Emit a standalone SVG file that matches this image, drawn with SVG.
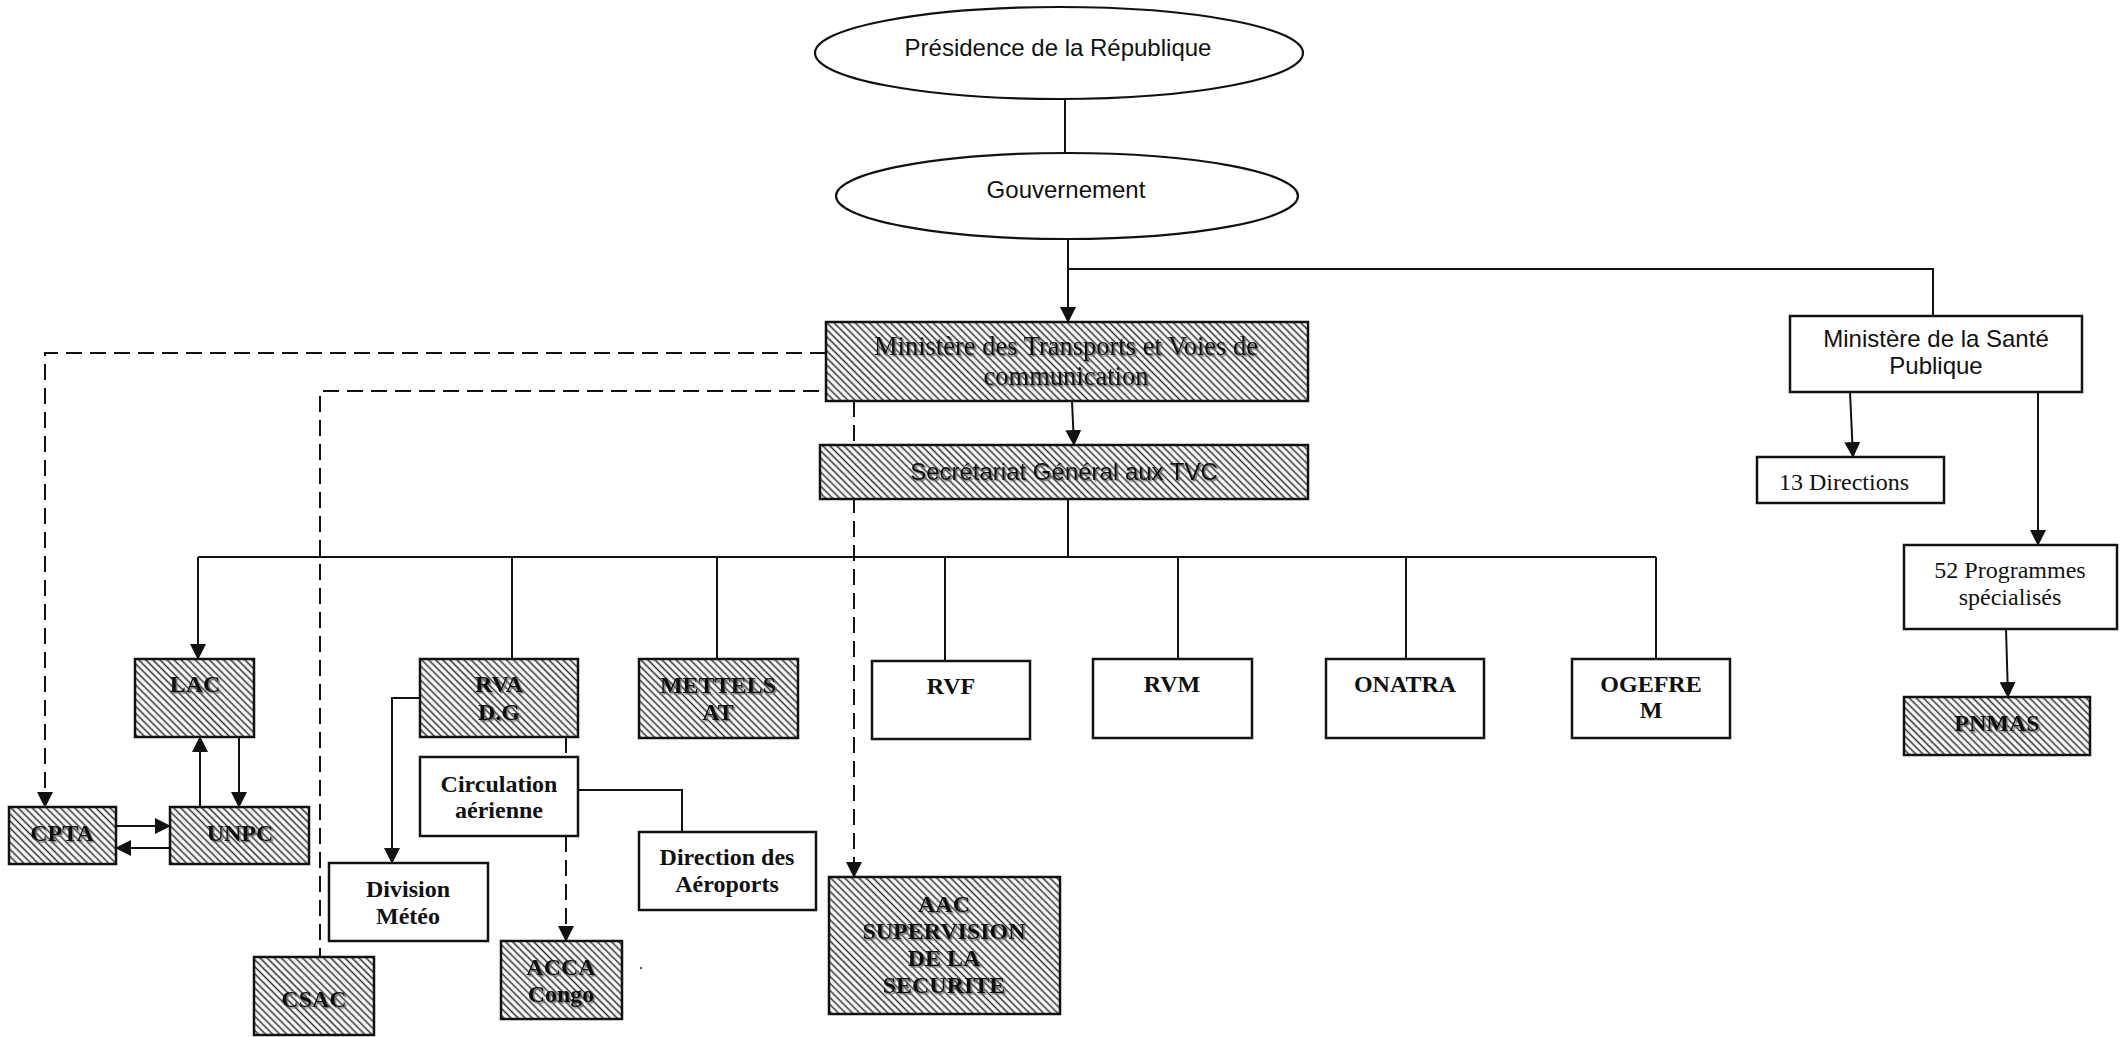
<svg xmlns="http://www.w3.org/2000/svg" width="2120" height="1037" viewBox="0 0 2120 1037">
<style>
.bg{fill:#fff}
.box{fill:#fff;stroke:#111;stroke-width:2.5}
.hb{fill:url(#hatch);stroke:#111;stroke-width:2.5}
.ell{fill:#fff;stroke:#111;stroke-width:2.2}
.ln{fill:none;stroke:#111;stroke-width:2}
.ds{fill:none;stroke:#111;stroke-width:2;stroke-dasharray:16 8}
.arr{marker-end:url(#ah)}
.sans{font-family:"Liberation Sans",Arial,sans-serif;font-size:24px;fill:#111;text-anchor:middle}
.ser{font-family:"Liberation Serif","Times New Roman",serif;font-size:24px;fill:#111;text-anchor:middle}
.bold{font-weight:bold}
.sh{filter:url(#shadow)}
</style>
<defs>
<pattern id="hatch" patternUnits="userSpaceOnUse" width="5" height="5" patternTransform="rotate(-45)">
<rect width="5" height="5" fill="#fff"/>
<line x1="1.5" y1="0" x2="1.5" y2="5" stroke="#333" stroke-width="1.6"/>
</pattern>
<marker id="ah" markerUnits="userSpaceOnUse" markerWidth="16" markerHeight="16" viewBox="0 0 16 16" refX="15" refY="8" orient="auto">
<path d="M0,0 L16,8 L0,16 Z" fill="#111"/>
</marker>
<filter id="shadow" x="-10%" y="-20%" width="130%" height="150%">
<feDropShadow dx="1.5" dy="1.5" stdDeviation="0.3" flood-color="#666" flood-opacity="0.9"/>
</filter>
</defs>
<rect class="bg" x="0" y="0" width="2120" height="1037"/>

<g id="connectors">
<path class="ln" d="M1065,99 V153"/>
<path class="ln arr" d="M1068,239 V322"/>
<path class="ln" d="M1068,269 H1933 V316"/>
<path class="ln arr" d="M1072,401 L1074,445"/>
<path class="ln" d="M1068,499 V557"/>
<path class="ln" d="M198,557 H1656"/>
<path class="ln arr" d="M198,557 V659"/>
<path class="ln" d="M512,557 V659"/>
<path class="ln" d="M717,557 V659"/>
<path class="ln" d="M945,557 V661"/>
<path class="ln" d="M1178,557 V659"/>
<path class="ln" d="M1406,557 V659"/>
<path class="ln" d="M1656,557 V659"/>
<path class="ln arr" d="M200,807 V737"/>
<path class="ln arr" d="M239,737 V807"/>
<path class="ln arr" d="M116,826 H170"/>
<path class="ln arr" d="M170,848 H116"/>
<path class="ds arr" d="M826,353 H45 V807"/>
<path class="ds" d="M819,391 H320 V957"/>
<path class="ds arr" d="M854,401 V877"/>
<path class="ln arr" d="M420,698 H392 V863"/>
<path class="ds" d="M566,737 V757"/>
<path class="ds arr" d="M566,836 V941"/>
<path class="ln" d="M578,790 H682 V832"/>
<path class="ln arr" d="M1850,392 L1853,457"/>
<path class="ln arr" d="M2038,392 V545"/>
<path class="ln arr" d="M2006,629 L2008,697"/>
</g>

<g id="presidence">
<ellipse class="ell" cx="1059" cy="53" rx="244" ry="46"/>
<text class="sans" x="1058" y="56">Présidence de la République</text>
</g>
<g id="gouvernement">
<ellipse class="ell" cx="1067" cy="196" rx="231" ry="43"/>
<text class="sans" x="1066" y="198">Gouvernement</text>
</g>
<g id="ministere-transports">
<rect class="hb" x="826" y="322" width="482" height="79"/>
<text class="ser sh" x="1066" y="355" style="font-size:26.5px">Ministère des Transports et Voies de</text>
<text class="ser sh" x="1066" y="385" style="font-size:26.5px">communication</text>
</g>
<g id="secretariat">
<rect class="hb" x="820" y="445" width="488" height="54"/>
<text class="sans sh" x="1064" y="480">Secrétariat Général aux TVC</text>
</g>
<g id="lac">
<rect class="hb" x="135" y="659" width="119" height="78"/>
<text class="ser bold sh" x="195" y="692">LAC</text>
</g>
<g id="rva">
<rect class="hb" x="420" y="659" width="158" height="78"/>
<text class="ser bold sh" x="499" y="692">RVA</text>
<text class="ser bold sh" x="499" y="720">D.G</text>
</g>
<g id="mettelsat">
<rect class="hb" x="639" y="659" width="159" height="79"/>
<text class="ser bold sh" x="718" y="693">METTELS</text>
<text class="ser bold sh" x="718" y="720">AT</text>
</g>
<g id="rvf">
<rect class="box" x="872" y="661" width="158" height="78"/>
<text class="ser bold" x="951" y="694">RVF</text>
</g>
<g id="rvm">
<rect class="box" x="1093" y="659" width="159" height="79"/>
<text class="ser bold" x="1172" y="692">RVM</text>
</g>
<g id="onatra">
<rect class="box" x="1326" y="659" width="158" height="79"/>
<text class="ser bold" x="1405" y="692">ONATRA</text>
</g>
<g id="ogefrem">
<rect class="box" x="1572" y="659" width="158" height="79"/>
<text class="ser bold" x="1651" y="692">OGEFRE</text>
<text class="ser bold" x="1651" y="718">M</text>
</g>
<g id="cpta">
<rect class="hb" x="9" y="807" width="107" height="57"/>
<text class="ser bold sh" x="62" y="841">CPTA</text>
</g>
<g id="unpc">
<rect class="hb" x="170" y="807" width="139" height="57"/>
<text class="ser bold sh" x="240" y="841">UNPC</text>
</g>
<g id="csac">
<rect class="hb" x="254" y="957" width="120" height="78"/>
<text class="ser bold sh" x="314" y="1007">CSAC</text>
</g>
<g id="circulation">
<rect class="box" x="420" y="757" width="158" height="79"/>
<text class="ser bold" x="499" y="792">Circulation</text>
<text class="ser bold" x="499" y="818">aérienne</text>
</g>
<g id="division-meteo">
<rect class="box" x="329" y="863" width="159" height="78"/>
<text class="ser bold" x="408" y="897">Division</text>
<text class="ser bold" x="408" y="924">Météo</text>
</g>
<g id="direction-aeroports">
<rect class="box" x="639" y="832" width="177" height="78"/>
<text class="ser bold" x="727" y="865">Direction des</text>
<text class="ser bold" x="727" y="892">Aéroports</text>
</g>
<g id="acca">
<rect class="hb" x="501" y="941" width="121" height="78"/>
<text class="ser bold sh" x="561" y="975">ACCA</text>
<text class="ser bold sh" x="561" y="1002">Congo</text>
</g>
<text class="ser" x="641" y="969" style="font-size:16px">.</text>
<g id="aac">
<rect class="hb" x="829" y="877" width="231" height="137"/>
<text class="ser bold sh" x="944" y="912">AAC</text>
<text class="ser bold sh" x="944" y="939">SUPERVISION</text>
<text class="ser bold sh" x="944" y="966">DE LA</text>
<text class="ser bold sh" x="944" y="993">SECURITE</text>
</g>
<g id="ministere-sante">
<rect class="box" x="1790" y="316" width="292" height="76"/>
<text class="sans" x="1936" y="347">Ministère de la Santé</text>
<text class="sans" x="1936" y="374">Publique</text>
</g>
<g id="directions13">
<rect class="box" x="1757" y="457" width="187" height="46"/>
<text class="ser" x="1779" y="490" style="text-anchor:start">13 Directions</text>
</g>
<g id="programmes52">
<rect class="box" x="1904" y="545" width="213" height="84"/>
<text class="ser" x="2010" y="578">52 Programmes</text>
<text class="ser" x="2010" y="605">spécialisés</text>
</g>
<g id="pnmas">
<rect class="hb" x="1904" y="697" width="186" height="58"/>
<text class="ser bold sh" x="1997" y="731">PNMAS</text>
</g>
</svg>
